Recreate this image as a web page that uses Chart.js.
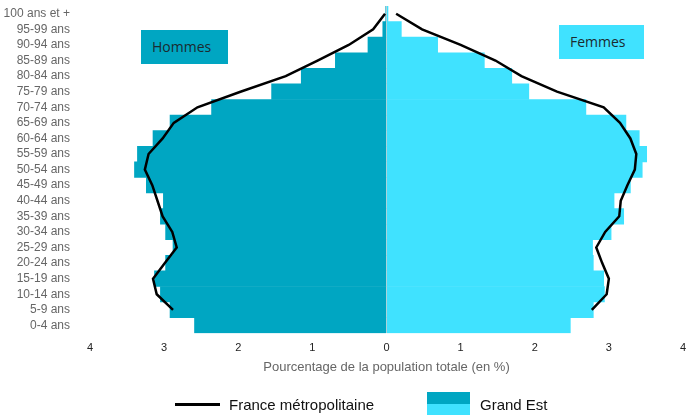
<!DOCTYPE html>
<html>
<head>
<meta charset="utf-8">
<script src="https://cdn.jsdelivr.net/npm/chart.js@4"></script>
<style>
  body { margin: 0; background: #fff; }
  #wrap { position: relative; width: 688px; height: 417px; }
  canvas { position: absolute; left: 0; top: 0; }
  .tag { position: absolute; font-family: "Open Sans", sans-serif; font-size: 14px; color: #1b2b30; box-sizing: border-box; padding-left: 11px; line-height: 34px; }
  .leg { position: absolute; font-family: "Liberation Sans", Arial, sans-serif; font-size: 15px; color: #111; }
</style>
</head>
<body>
<div id="wrap">
  <canvas id="pyramid" width="688" height="417"></canvas>
  <div class="tag" style="left:141px;top:30px;width:87px;height:34px;background:#00a6c2;">Hommes</div>
  <div class="tag" style="left:559px;top:25px;width:85px;height:34px;background:#40e2ff;">Femmes</div>
  <div style="position:absolute;left:175px;top:403px;width:45px;height:3px;background:#000;"></div>
  <div class="leg" style="left:229px;top:396px;">France métropolitaine</div>
  <div style="position:absolute;left:427px;top:392px;width:43px;height:12px;background:#00a6c2;"></div>
  <div style="position:absolute;left:427px;top:404px;width:43px;height:11px;background:#40e2ff;"></div>
  <div class="leg" style="left:480px;top:396px;">Grand Est</div>
</div>
<script>
const ages = ["100 ans et +", "95-99 ans", "90-94 ans", "85-89 ans", "80-84 ans", "75-79 ans",
  "70-74 ans", "65-69 ans", "60-64 ans", "55-59 ans", "50-54 ans", "45-49 ans", "40-44 ans",
  "35-39 ans", "30-34 ans", "25-29 ans", "20-24 ans", "15-19 ans", "10-14 ans", "5-9 ans", "0-4 ans"];

// Grand Est (% de la population totale)
const hommesGE = [0.01, 0.05, 0.25, 0.69, 1.15, 1.55, 2.36, 2.92, 3.15, 3.36, 3.40, 3.24, 3.01,
  3.05, 2.98, 2.88, 2.98, 3.13, 3.05, 2.92, 2.59];
const femmesGE = [0.02, 0.20, 0.69, 1.32, 1.69, 1.92, 2.69, 3.23, 3.41, 3.51, 3.45, 3.29, 3.07,
  3.20, 3.03, 2.78, 2.79, 2.93, 2.94, 2.79, 2.48];

// France métropolitaine
const hommesFR = [0.02, 0.18, 0.51, 0.93, 1.36, 1.97, 2.55, 2.87, 3.02, 3.21, 3.26, 3.16, 3.09,
  3.02, 2.89, 2.83, 2.99, 3.15, 3.10, 2.88, null];
const femmesFR = [0.13, 0.48, 1.00, 1.47, 1.82, 2.30, 2.93, 3.15, 3.29, 3.37, 3.35, 3.25, 3.16,
  3.14, 2.95, 2.83, 2.91, 3.00, 2.97, 2.77, null];

const xTicks = [-4, -3, -2, -1, 0, 1, 2, 3, 4];

const neg = arr => arr.map(v => v === null ? null : -v);
const txt = "#666666";

new Chart(document.getElementById("pyramid"), {
  type: "bar",
  data: {
    labels: ages,
    datasets: [
      { type: "line", label: "France métropolitaine", data: neg(hommesFR), borderColor: "#000", borderWidth: 2.5, pointRadius: 0, tension: 0, spanGaps: false },
      { type: "line", label: "France métropolitaine F", data: femmesFR, borderColor: "#000", borderWidth: 2.5, pointRadius: 0, tension: 0, spanGaps: false },
      { label: "Hommes", data: neg(hommesGE), backgroundColor: "#00a6c2", grouped: false, categoryPercentage: 1, barPercentage: 1 },
      { label: "Femmes", data: femmesGE, backgroundColor: "#40e2ff", grouped: false, categoryPercentage: 1, barPercentage: 1 }
    ]
  },
  options: {
    indexAxis: "y",
    responsive: false,
    animation: false,
    layout: { padding: { top: 6, right: 5, bottom: 42, left: 0 } },
    scales: {
      x: {
        min: -4, max: 4,
        afterBuildTicks: s => { s.ticks = xTicks.map(v => ({ value: v })); },
        afterFit: s => { s.paddingLeft = 0; s.paddingRight = 0; },
        ticks: { callback: v => Math.abs(v), color: "#222", font: { family: "Liberation Sans", size: 11 }, padding: 8 },
        grid: { drawTicks: false, color: c => c.tick && c.tick.value === 0 ? "#c6d6da" : "transparent", lineWidth: 1.5 },
        border: { display: false },
        title: { display: true, text: "Pourcentage de la population totale (en %)", color: txt, font: { family: "Liberation Sans", size: 13 }, padding: { top: -3, bottom: 0 } }
      },
      y: {
        afterFit: s => { s.width = 90; s.paddingTop = 0; s.paddingBottom = 0; },
        ticks: { color: txt, font: { family: "Liberation Sans", size: 12 }, padding: 12, autoSkip: false },
        grid: { display: false },
        border: { display: false }
      }
    },
    plugins: {
      legend: { display: false },
      tooltip: { enabled: false }
    }
  }
});
</script>
</body>
</html>
